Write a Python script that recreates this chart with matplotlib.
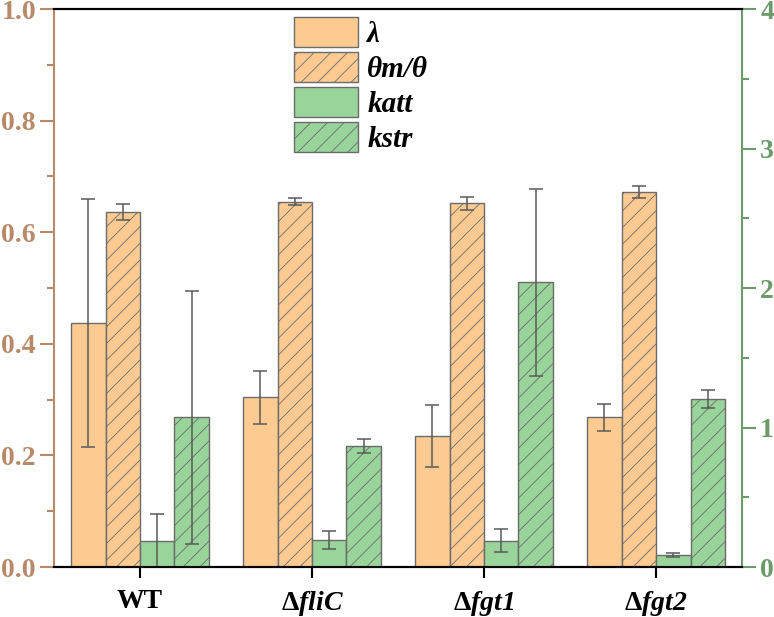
import matplotlib
matplotlib.use("Agg")
import matplotlib.pyplot as plt
import numpy as np
from matplotlib.font_manager import FontProperties
from matplotlib.ticker import MultipleLocator

# values
groups = [r"WT", r"$\mathbf{\Delta}\mathbfit{fliC}$",
          r"$\mathbf{\Delta}\mathbfit{fgt1}$", r"$\mathbf{\Delta}\mathbfit{fgt2}$"]
lam = [0.437, 0.304, 0.235, 0.268]
lam_err = [0.222, 0.047, 0.056, 0.024]
theta = [0.636, 0.655, 0.652, 0.672]
theta_err = [0.015, 0.006, 0.012, 0.011]
katt = [0.184, 0.194, 0.189, 0.088]
katt_err = [0.198, 0.067, 0.084, 0.015]
kstr = [1.073, 0.867, 2.041, 1.204]
kstr_err = [0.905, 0.050, 0.670, 0.063]
labels = ["λ", "θm/θ", "katt", "kstr"]

ORANGE = "#FDCB92"
GREEN = "#99D49A"
EDGE = "#6b6b6b"
LEFT_C = "#B88A6A"
RIGHT_C = "#6C9A6A"

plt.rcParams["font.family"] = ["Liberation Serif", "DejaVu Serif"]
plt.rcParams["font.weight"] = "bold"
plt.rcParams["mathtext.fontset"] = "custom"
plt.rcParams["mathtext.rm"] = "Liberation Serif"
plt.rcParams["mathtext.bf"] = "Liberation Serif:bold"
plt.rcParams["mathtext.it"] = "Liberation Serif:italic"
plt.rcParams["mathtext.bfit"] = "Liberation Serif:italic:bold"
plt.rcParams["hatch.color"] = "#6b6b6b"
plt.rcParams["hatch.linewidth"] = 0.6


def main():
    fig = plt.figure(figsize=(7.74, 6.17), dpi=100)
    ax = fig.add_axes([0.0698, 0.081, 0.889, 0.9044])
    ax2 = ax.twinx()

    x = np.arange(len(groups))
    w = 0.2
    err_kw = dict(ecolor="#5a5a5a", elinewidth=1.1, capsize=5, capthick=1.1)

    b1 = ax.bar(x - 1.5 * w, lam, w, yerr=lam_err, color=ORANGE,
                edgecolor=EDGE, linewidth=1, error_kw=err_kw)
    b2 = ax.bar(x - 0.5 * w, theta, w, yerr=theta_err, color=ORANGE,
                edgecolor=EDGE, linewidth=1, hatch="//", error_kw=err_kw)
    b3 = ax2.bar(x + 0.5 * w, katt, w, yerr=katt_err, color=GREEN,
                 edgecolor=EDGE, linewidth=1, error_kw=err_kw)
    b4 = ax2.bar(x + 1.5 * w, kstr, w, yerr=kstr_err, color=GREEN,
                 edgecolor=EDGE, linewidth=1, hatch="//", error_kw=err_kw)

    ax.set_xlim(-0.5, 3.5)
    ax.set_ylim(0, 1.0)
    ax2.set_ylim(0, 4)

    ax.set_xticks(x)
    ax.set_xticklabels(groups, fontsize=20, fontweight="bold")
    ax.tick_params(axis="x", direction="out", length=8, width=1.5,
                   colors="black", pad=8)

    ax.yaxis.set_major_locator(MultipleLocator(0.2))
    ax.yaxis.set_minor_locator(MultipleLocator(0.1))
    ax.tick_params(axis="y", which="major", direction="out", length=10,
                   width=1.5, colors=LEFT_C, labelsize=20, pad=3)
    ax.tick_params(axis="y", which="minor", direction="out", length=5,
                   width=1.5, colors=LEFT_C)
    ax.yaxis.set_major_formatter(plt.FormatStrFormatter("%.1f"))

    ax2.yaxis.set_major_locator(MultipleLocator(1))
    ax2.yaxis.set_minor_locator(MultipleLocator(0.5))
    ax2.tick_params(axis="y", which="major", direction="out", length=10,
                    width=1.5, colors=RIGHT_C, labelsize=20, pad=3)
    ax2.tick_params(axis="y", which="minor", direction="out", length=5,
                    width=1.5, colors=RIGHT_C)

    for a in (ax, ax2):
        for lbl in a.get_yticklabels():
            lbl.set_fontweight("bold")

    ax.spines["left"].set_color(LEFT_C)
    ax.spines["left"].set_linewidth(1.5)
    ax2.spines["left"].set_visible(False)
    ax2.spines["right"].set_color(RIGHT_C)
    ax2.spines["right"].set_linewidth(1.5)
    ax.spines["right"].set_visible(False)
    for a in (ax, ax2):
        a.spines["top"].set_color("black")
        a.spines["top"].set_linewidth(1.5)
        a.spines["bottom"].set_color("black")
        a.spines["bottom"].set_linewidth(1.5)

    leg_font = FontProperties(family="Liberation Serif", weight="bold",
                              style="italic", size=21)
    ax2.legend([b1, b2, b3, b4], labels, loc="upper left",
               bbox_to_anchor=(0.328, 1.012), frameon=False, prop=leg_font,
               handlelength=2.2, handleheight=1.2, labelspacing=0.15,
               handletextpad=0.3, borderaxespad=0.1)

    fig.savefig("out.png", dpi=100)


if __name__ == "__main__":
    main()
